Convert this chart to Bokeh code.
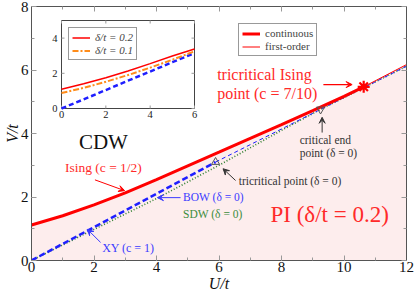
import math
from bokeh.plotting import figure
from bokeh.models import (Range1d, LinearAxis, SingleIntervalTicker, Label, Arrow,
                          VeeHead, Legend, LegendItem)
from bokeh.core.properties import value
from bokeh.embed import file_html
from bokeh.resources import INLINE

# ---------------- data ----------------
# delta/t = 0.2 transition line (continuous part, Ising c=1/2)
ising_U = [0, 1, 2, 3, 4, 5, 6, 7, 8, 9, 10, 10.63]
ising_V = [1.12, 1.41, 1.75, 2.13, 2.55, 2.98, 3.41, 3.85, 4.28, 4.72, 5.17, 5.47]
# delta/t = 0.2 first-order part
first_U = [10.63, 12]
first_V = [5.47, 6.17]
# delta = 0 : CDW-BOW continuous (XY)
bow_U = [0, 2, 4, 5.89]
bow_V = [0, 1.05, 2.10, 3.10]
# delta = 0 : first-order part
bowfo_U = [5.89, 9.25, 12]
bowfo_V = [3.10, 4.76, 6.12]
# delta = 0 : SDW-BOW
sdw_U = [0, 2, 4, 6, 8, 9.25, 12]
sdw_V = [0, 0.98, 1.95, 3.0, 4.1, 4.76, 6.12]
# special points
tci_U, tci_V = [10.63], [5.47]       # tricritical Ising point
tcp_U, tcp_V = [5.89], [3.10]        # tricritical point (delta=0)
cep_U, cep_V = [9.25], [4.76]        # critical end point (delta=0)

# inset
inset_U = [0, 1, 2, 3, 4, 5, 6]
inset_d02 = [1.10, 1.41, 1.75, 2.13, 2.55, 2.98, 3.38]
inset_d01 = [0.88, 1.17, 1.52, 1.90, 2.32, 2.77, 3.25]
inset_d00 = [0, 0.52, 1.05, 1.58, 2.10, 2.63, 3.15]

x_ticks = [0, 2, 4, 6, 8, 10, 12]
y_ticks = [0, 2, 4, 6, 8]
inset_xticks = [0, 2, 4, 6]
inset_yticks = [0, 2, 4]

# ---------------- styles ----------------
RED = "#ff0000"
RED_TXT = "#ff2a2a"
BLUE = "#1f1fff"
BLUE_TXT = "#3b3bff"
GREEN = "#2f7f2f"
GREEN_TXT = "#3c8c3c"
ORANGE = "#ff8c1a"
GRAY = "#333333"
SHADE = "#fdeded"
FONT = "Liberation Serif"

p = figure(frame_width=375, frame_height=254,
           x_range=Range1d(0, 12), y_range=Range1d(0, 8),
           output_backend="svg", toolbar_location=None,
           min_border_left=31, min_border_right=9, min_border_top=6, min_border_bottom=31,
           background_fill_color="white", border_fill_color="white",
           outline_line_color="#555555")
p.grid.visible = False

def style_axis(ax, labels=True):
    ax.ticker = SingleIntervalTicker(interval=2, num_minor_ticks=2)
    ax.major_tick_in = 5
    ax.major_tick_out = 0
    ax.minor_tick_in = 3
    ax.minor_tick_out = 0
    ax.major_tick_line_color = "#999999"
    ax.minor_tick_line_color = "#999999"
    ax.axis_line_color = "#555555"
    if labels:
        ax.major_label_text_font = FONT
        ax.major_label_text_font_size = "15px"
        ax.major_label_text_color = "#111111"
        ax.major_label_standoff = 2
        ax.axis_label_text_font = FONT
        ax.axis_label_text_font_style = "italic"
        ax.axis_label_text_font_size = "16px"
        ax.axis_label_text_color = "#111111"
        ax.axis_label_text_line_height = 1.0
    else:
        ax.major_label_text_font_size = "0px"
        ax.major_label_standoff = 0

style_axis(p.xaxis[0])
style_axis(p.yaxis[0])
p.xaxis[0].axis_label = "U/t"
p.xaxis[0].major_label_standoff = 1
p.xaxis[0].axis_label_standoff = 0
p.yaxis[0].axis_label = "V/t"
p.yaxis[0].major_label_standoff = 3
p.yaxis[0].axis_label_standoff = -3
top_ax = LinearAxis()
right_ax = LinearAxis()
style_axis(top_ax, labels=False)
style_axis(right_ax, labels=False)
p.add_layout(top_ax, "above")
p.add_layout(right_ax, "right")

# shaded PI region under the delta=0.2 line
shade_U = ising_U + first_U[1:]
shade_V = ising_V + first_V[1:]
p.varea(x=shade_U, y1=[0] * len(shade_U), y2=shade_V, fill_color=SHADE)

# delta = 0 lines
p.line(sdw_U, sdw_V, line_color=GREEN, line_width=1.6, line_dash="1 2")
p.line(bowfo_U, bowfo_V, line_color=BLUE, line_width=1, line_dash="4 3")
p.line(bow_U, bow_V, line_color=BLUE, line_width=2.5, line_dash="6 3")

# delta = 0.2 lines
r_cont = p.line(ising_U, ising_V, line_color=RED, line_width=3)
r_first = p.line(first_U, first_V, line_color=RED, line_width=1)

# special points
p.scatter(tcp_U, tcp_V, marker="triangle", size=8, fill_color=None, line_color="#555555")
p.scatter(cep_U, cep_V, marker="inverted_triangle", size=8, fill_color=None, line_color="#555555")
p.scatter(tci_U, tci_V, marker="asterisk", size=12, line_color=RED, line_width=2.2)

# main legend
leg = Legend(items=[LegendItem(label="continuous", renderers=[r_cont]),
                    LegendItem(label="first-order", renderers=[r_first])],
             location=(207, 204), label_text_font=FONT, label_text_font_size="11px",
             label_height=11, glyph_height=11, glyph_width=18, spacing=1, padding=3,
             margin=0, label_standoff=5, border_line_color="#333333",
             background_fill_color="white", background_fill_alpha=1)
p.add_layout(leg, "center")

# ---------------- inset (own ranges mapped onto a sub-box of the frame) ----------------
ins_left, ins_right = 0.96, 5.216      # inset frame position in main U units
ins_bottom, ins_top = 4.787, 7.559     # inset frame position in main V units
ins_xmax, ins_ymax = 6, 5
sx = ins_xmax / (ins_right - ins_left)
sy = ins_ymax / (ins_top - ins_bottom)
p.extra_x_ranges = {"ix": Range1d(-ins_left * sx, ins_xmax + (12 - ins_right) * sx)}
p.extra_y_ranges = {"iy": Range1d(-ins_bottom * sy, ins_ymax + (8 - ins_top) * sy)}
IX = dict(x_range_name="ix", y_range_name="iy")

p.quad(left=[0], right=[ins_xmax], bottom=[0], top=[ins_ymax], fill_color="white",
       line_color="#444444", line_width=1, **IX)
# inset ticks
for xs, ys, ang in [(inset_xticks, [0] * 4, math.pi / 2), (inset_xticks, [ins_ymax] * 4, -math.pi / 2)]:
    p.ray(x=xs, y=ys, length=3, length_units="screen", angle=ang, line_color="#999999", **IX)
for xs, ys, ang in [([0] * 3, inset_yticks, 0), ([ins_xmax] * 3, inset_yticks, math.pi)]:
    p.ray(x=xs, y=ys, length=3, length_units="screen", angle=ang, line_color="#999999", **IX)
p.text(x=inset_xticks, y=[0] * len(inset_xticks), text=[str(t) for t in inset_xticks],
       y_offset=2, text_align="center", text_baseline="top", text_font=value(FONT),
       text_font_size="10.5px", text_color="#222222", **IX)
p.text(x=[0] * len(inset_yticks), y=inset_yticks, text=[str(t) for t in inset_yticks],
       x_offset=-4, text_align="right", text_baseline="middle", text_font=value(FONT),
       text_font_size="10.5px", text_color="#222222", **IX)

p.line(inset_U, inset_d00, line_color=BLUE, line_width=2.5, line_dash="5 3", **IX)
r_i01 = p.line(inset_U, inset_d01, line_color=ORANGE, line_width=2, line_dash="6 2 2 2", **IX)
r_i02 = p.line(inset_U, inset_d02, line_color=RED, line_width=1.5, **IX)

ileg = Legend(items=[LegendItem(label="δ/t = 0.2", renderers=[r_i02]),
                     LegendItem(label="δ/t = 0.1", renderers=[r_i01])],
              location=(37, 200), label_text_font=FONT, label_text_font_style="italic",
              label_text_font_size="11px", label_height=11, glyph_height=11,
              glyph_width=18, spacing=1, padding=3, margin=0, label_standoff=5,
              border_line_color="#333333", background_fill_color="white",
              background_fill_alpha=1)
p.add_layout(ileg, "center")

# ---------------- annotations ----------------
def lab(x, y, text, size, color, align="left", style="normal"):
    p.add_layout(Label(x=x, y=y, text=text, text_font=FONT, text_font_size=size,
                       text_color=color, text_align=align, text_baseline="middle",
                       text_font_style=style))

def arr(x0, y0, x1, y1, color, width=1.0):
    p.add_layout(Arrow(x_start=x0, y_start=y0, x_end=x1, y_end=y1, line_color=color,
                       line_width=width,
                       end=VeeHead(size=6, fill_color=color, line_color=color, line_width=1)))

lab(2.30, 3.72, "CDW", "21px", "#111111", align="center")
lab(2.30, 2.94, "Ising (c = 1/2)", "13.5px", RED_TXT, align="center")
arr(2.03, 2.54, 2.98, 2.20, RED)
lab(4.85, 1.99, "BOW (δ = 0)", "11.5px", BLUE_TXT)
arr(4.77, 1.98, 4.03, 1.98, BLUE_TXT)
lab(4.85, 1.45, "SDW (δ = 0)", "11.5px", GREEN_TXT)
lab(2.26, 0.40, "XY (c = 1)", "12px", BLUE_TXT)
arr(2.21, 0.57, 1.79, 0.98, BLUE_TXT)
lab(6.63, 2.50, "tricritical point (δ = 0)", "11.5px", GRAY)
arr(6.53, 2.52, 6.13, 2.89, GRAY)
lab(8.58, 3.80, "critical end", "11.5px", GRAY)
lab(8.58, 3.39, "point (δ = 0)", "11.5px", GRAY)
arr(9.30, 4.03, 9.30, 4.51, GRAY)
lab(5.94, 5.86, "tricritical Ising", "16px", RED_TXT)
lab(5.94, 5.26, "point (c = 7/10)", "16px", RED_TXT)
arr(9.34, 5.54, 10.26, 5.54, RED, 1.3)
lab(9.54, 1.45, "PI (δ/t = 0.2)", "23px", RED_TXT, align="center")

open("out.html", "w").write(file_html(p, INLINE))
